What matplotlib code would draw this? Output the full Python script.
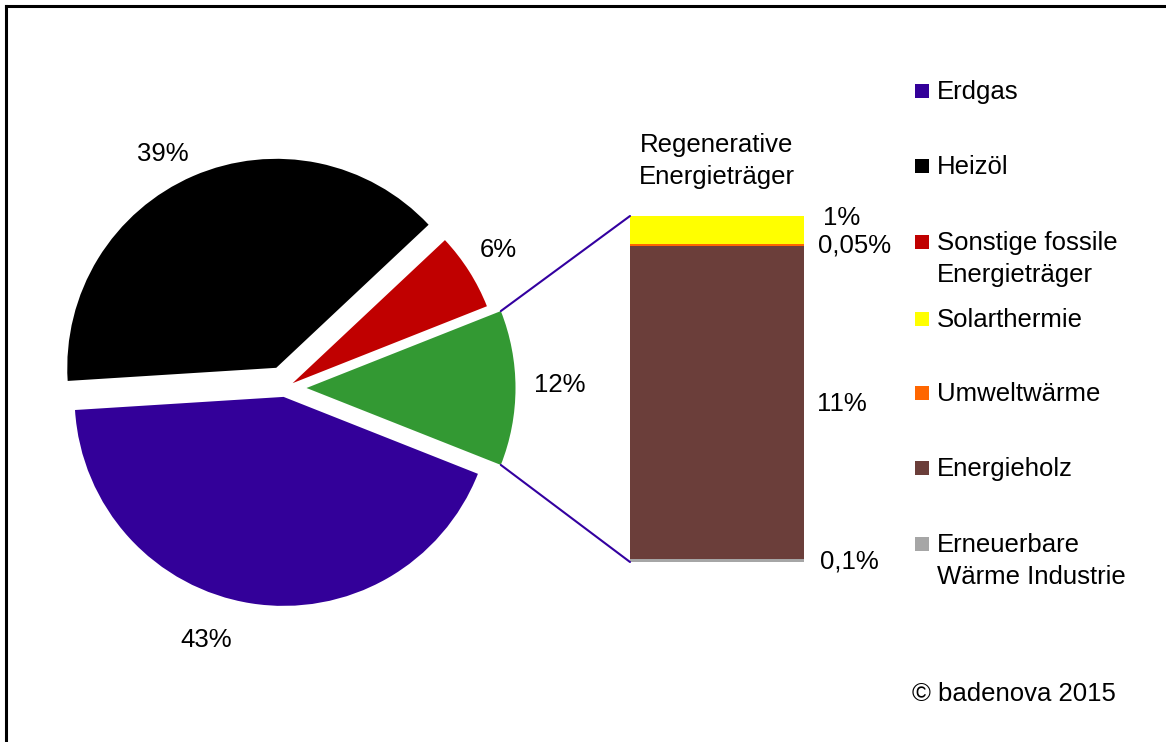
import matplotlib
matplotlib.use("Agg")
import matplotlib.pyplot as plt
from matplotlib.patches import Rectangle, ConnectionPatch
import numpy as np

plt.rcParams['font.family'] = ['Liberation Sans', 'DejaVu Sans']

# Shares of heat supply (percent)
pie_labels = ["Erdgas", "Heizöl", "Sonstige fossile\nEnergieträger", "Regenerative\nEnergieträger"]
pie_values = [43, 39, 6, 12]
pie_colors = ["#330099", "#000000", "#C00000", "#339933"]

# Breakdown of the renewable share, stacked bottom to top
bar_labels = ["Erneuerbare\nWärme Industrie", "Energieholz", "Umweltwärme", "Solarthermie"]
bar_values = [0.1, 11, 0.05, 1]
bar_texts = ["0,1%", "11%", "0,05%", "1%"]
bar_colors = ["#A6A6A6", "#6B3E3A", "#FF6600", "#FFFF00"]

legend_labels = [pie_labels[0], pie_labels[1], pie_labels[2],
                 bar_labels[3], bar_labels[2], bar_labels[1], bar_labels[0]]
legend_colors = [pie_colors[0], pie_colors[1], pie_colors[2],
                 bar_colors[3], bar_colors[2], bar_colors[1], bar_colors[0]]

W, H = 1166, 742
FS = 18.5
LINE_COLOR = "#3300A0"

fig = plt.figure(figsize=(W / 100, H / 100), dpi=100)
ax = fig.add_axes([0, 0, 1, 1])


def py(y):
    """Convert a top-down pixel row into the axes' y coordinate."""
    return H - y


# Pie of the main energy carriers (explode offsets are in pixels here)
radius = 209
center = (285, py(388))
wedges, _ = ax.pie(pie_values, colors=pie_colors, startangle=-21.6,
                   counterclock=False, radius=radius, center=center,
                   explode=[9, 22, 9, 21.5],
                   wedgeprops=dict(linewidth=0))
ax.set_xlim(0, W)
ax.set_ylim(0, H)
ax.set_aspect('equal')
ax.axis('off')

# Percent labels around the pie
pie_label_pos = [(206, 640), (163, 154), (498, 250), (560, 385)]
for v, (x, y) in zip(pie_values, pie_label_pos):
    ax.text(x, py(y), f"{v}%", ha='center', va='center', fontsize=FS)

# Stacked bar for the renewable share
bx0, bx1, by0, by1 = 630, 804, 216, 562
ax2 = fig.add_axes([bx0 / W, (H - by1) / H, (bx1 - bx0) / W, (by1 - by0) / H])
bottom = 0
for v, c in zip(bar_values, bar_colors):
    ax2.bar(0, v, bottom=bottom, width=1, color=c, linewidth=0)
    bottom += v
total = bottom
ax2.set_xlim(-0.5, 0.5)
ax2.set_ylim(0, total)
ax2.axis('off')

bar_label_pos = [(849, 562), (842, 404), (855, 245), (842, 218)]
for t, (x, y) in zip(bar_texts, bar_label_pos):
    ax.text(x, py(y), t, ha='center', va='center', fontsize=FS)

# Connector lines from the renewable wedge to the bar
g = wedges[3]
gc = g.center
for ang, yb in ((g.theta1, 0), (g.theta2, total)):
    a = np.deg2rad(ang)
    corner = (gc[0] + g.r * np.cos(a), gc[1] + g.r * np.sin(a))
    con = ConnectionPatch(xyA=corner, coordsA=ax.transData,
                          xyB=(-0.5, yb), coordsB=ax2.transData,
                          color=LINE_COLOR, lw=1.5)
    fig.add_artist(con)

# Bar heading
for i, line in enumerate(pie_labels[3].split("\n")):
    ax.text(717, py(145 + i * 32), line, ha='center', va='center', fontsize=FS)

# Legend
legend_y = [90, 165, 241, 318, 392, 467, 543]
for lab, col, y in zip(legend_labels, legend_colors, legend_y):
    ax.add_patch(Rectangle((915, py(y + 8)), 14, 14, color=col, linewidth=0))
    for i, line in enumerate(lab.split("\n")):
        ax.text(937, py(y + 2 + i * 32), line, ha='left', va='center', fontsize=FS)

ax.text(1014, py(694), "© badenova 2015", ha='center', va='center', fontsize=FS)

# Frame lines on the left and top
ax.plot([6, 6], [py(6), py(H)], color='black', lw=2.2, clip_on=False,
        solid_capstyle='projecting')
ax.plot([6, W], [py(6), py(6)], color='black', lw=2.2, clip_on=False,
        solid_capstyle='projecting')

fig.savefig("out.png", dpi=100)
